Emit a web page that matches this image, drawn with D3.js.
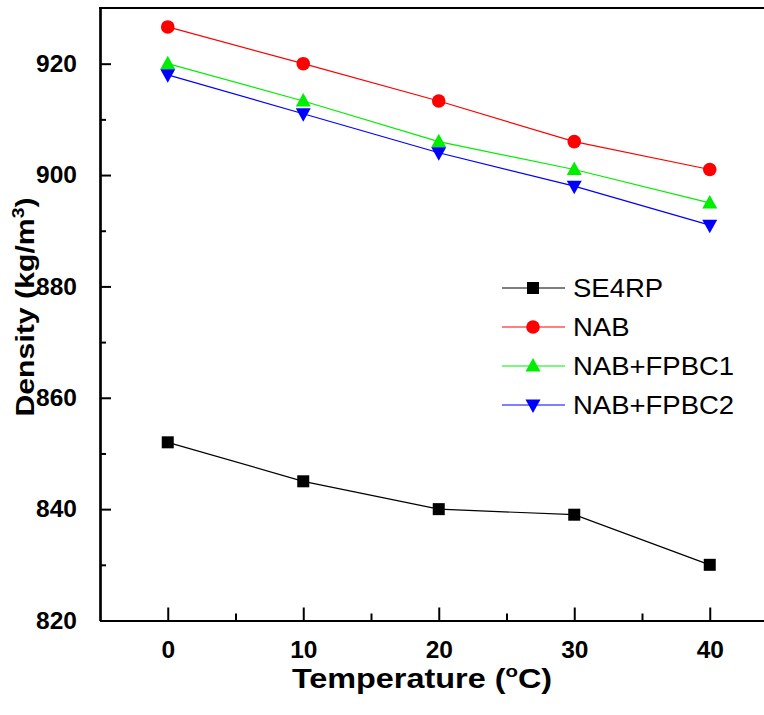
<!DOCTYPE html>
<html>
<head>
<meta charset="utf-8">
<script src="https://cdn.jsdelivr.net/npm/d3@7"></script>
<style>
  html, body { margin: 0; padding: 0; background: #fff; }
  svg { display: block; }
  text { font-family: Arial, "Liberation Sans", sans-serif; fill: #000; }
</style>
</head>
<body>
<svg id="chart" width="764" height="715"></svg>
<script>
// Density vs temperature for four fuel samples
const temperatures = [0, 10, 20, 30, 40];
const seriesNames = ["SE4RP", "NAB", "NAB+FPBC1", "NAB+FPBC2"];
const se4rp = [852, 845, 840, 839, 830];
const nab = [926.6, 920, 913.3, 906, 901];
const nabFpbc1 = [920, 913.3, 906, 901, 895];
const nabFpbc2 = [918, 911, 904, 898, 891];
const xTicks = [0, 10, 20, 30, 40];
const xMinorTicks = [5, 15, 25, 35];
const yTicks = [820, 840, 860, 880, 900, 920];
const yMinorTicks = [830, 850, 870, 890, 910];

const seriesValues = [se4rp, nab, nabFpbc1, nabFpbc2];
const colors = ["#000000", "#ff0000", "#00ee00", "#0000ff"];
const shapes = ["square", "circle", "triUp", "triDown"];

const svg = d3.select("#chart");
const x = d3.scaleLinear().domain([-5, 45]).range([100, 777.5]);
const y = d3.scaleLinear().domain([820, 930]).range([620.5, 8]);

// axes: major ticks point into the plot, minor ticks halfway between
const xAxis = d3.axisBottom(x).tickValues(xTicks).tickSize(-13).tickSizeOuter(0).tickPadding(20).tickFormat(d3.format("d"));
const xMinor = d3.axisBottom(x).tickValues(xMinorTicks).tickSize(-7).tickSizeOuter(0).tickFormat("");
const yAxis = d3.axisLeft(y).tickValues(yTicks).tickSize(-11).tickSizeOuter(0).tickPadding(23).tickFormat(d3.format("d"));
const yMinor = d3.axisLeft(y).tickValues(yMinorTicks).tickSize(-6).tickSizeOuter(0).tickFormat("");

function styleAxis(g) {
  g.select(".domain").attr("stroke", "#000").attr("stroke-width", 2.2);
  g.selectAll(".tick line").attr("stroke", "#000").attr("stroke-width", 2);
  g.selectAll(".tick text").attr("font-size", 24.5).attr("font-weight", "bold").attr("fill", "#000");
}

svg.append("g").attr("transform", `translate(0,${y(820)})`).call(xAxis).call(styleAxis);
svg.append("g").attr("transform", `translate(0,${y(820)})`).call(xMinor).call(styleAxis);
svg.append("g").attr("transform", `translate(${x(-5)},0)`).call(yAxis).call(styleAxis);
svg.append("g").attr("transform", `translate(${x(-5)},0)`).call(yMinor).call(styleAxis);

// top frame line
svg.append("line")
  .attr("x1", x(-5) - 1).attr("x2", x(45))
  .attr("y1", y(930)).attr("y2", y(930))
  .attr("stroke", "#000").attr("stroke-width", 2.2);

// marker drawing
function drawMarker(g, shape, color, cx, cy) {
  if (shape === "square") {
    g.append("rect").attr("x", cx - 6).attr("y", cy - 6).attr("width", 12).attr("height", 12).attr("fill", color);
  } else if (shape === "circle") {
    g.append("circle").attr("cx", cx).attr("cy", cy).attr("r", 6.8).attr("fill", color);
  } else if (shape === "triUp") {
    g.append("path").attr("d", `M${cx},${cy - 8}L${cx + 7.5},${cy + 5.5}L${cx - 7.5},${cy + 5.5}Z`).attr("fill", color);
  } else {
    g.append("path").attr("d", `M${cx},${cy + 8}L${cx + 7.5},${cy - 5.5}L${cx - 7.5},${cy - 5.5}Z`).attr("fill", color);
  }
}

const line = d3.line().x((d, i) => x(temperatures[i])).y(d => y(d));

seriesValues.forEach((vals, s) => {
  const g = svg.append("g");
  g.append("path").attr("d", line(vals)).attr("fill", "none").attr("stroke", colors[s]).attr("stroke-width", 1.2);
  vals.forEach((v, i) => drawMarker(g, shapes[s], colors[s], x(temperatures[i]), y(v)));
});

// legend
const legendY = [288, 327, 366, 405];
seriesNames.forEach((name, s) => {
  const g = svg.append("g");
  g.append("line").attr("x1", 502).attr("x2", 565).attr("y1", legendY[s]).attr("y2", legendY[s])
    .attr("stroke", colors[s]).attr("stroke-width", 1.2);
  drawMarker(g, shapes[s], colors[s], 533, legendY[s]);
  g.append("text")
    .attr("transform", `translate(573,${legendY[s] + 9}) scale(1.1,1)`)
    .attr("font-size", 25)
    .text(name);
});

// axis titles
const xt = svg.append("text").attr("transform", "translate(422,688) scale(1.2,1)").attr("text-anchor", "middle")
  .attr("font-size", 27).attr("font-weight", "bold");
xt.append("tspan").text("Temperature (");
xt.append("tspan").attr("font-size", 17).attr("dy", -11).text("o");
xt.append("tspan").attr("dy", 11).text("C)");

const yt = svg.append("text").attr("transform", "translate(34,307) rotate(-90) scale(1.21,1)").attr("text-anchor", "middle")
  .attr("font-size", 25).attr("font-weight", "bold");
yt.append("tspan").text("Density (kg/m");
yt.append("tspan").attr("font-size", 16).attr("dy", -10).text("3");
yt.append("tspan").attr("dy", 10).text(")");
</script>
</body>
</html>
